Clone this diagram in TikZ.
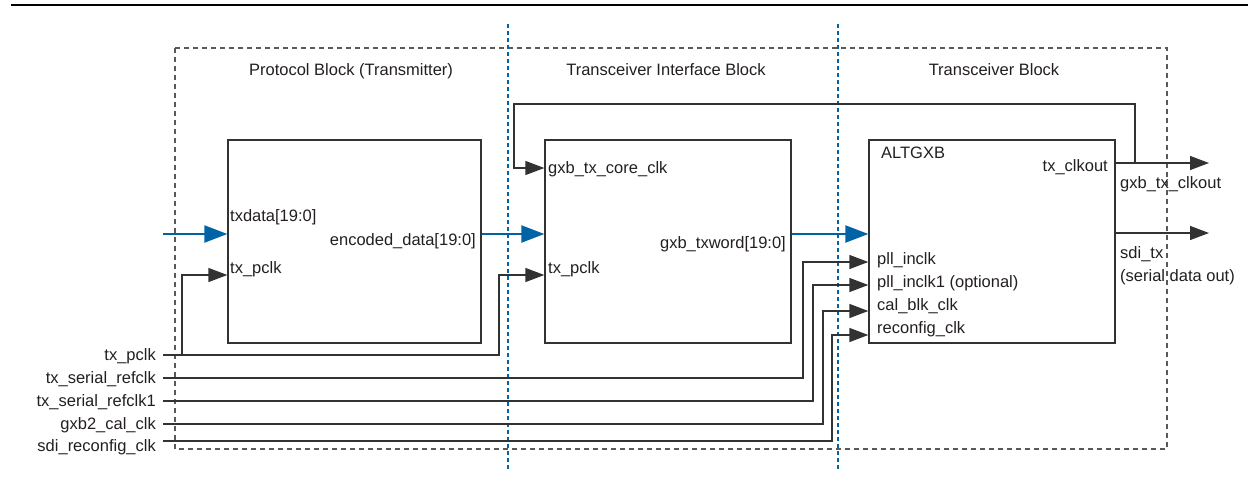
\documentclass[tikz,border=0pt]{standalone}
\usepackage{fontspec}
\setmainfont{Liberation Sans}
\usetikzlibrary{arrows.meta}
\definecolor{altblue}{RGB}{0,99,166}
\definecolor{wirecol}{RGB}{50,50,50}
\definecolor{inkcol}{RGB}{35,31,32}

\begin{document}
\begin{tikzpicture}[x=1pt,y=-1pt,line join=miter,>={Triangle[length=19pt,width=14pt]}]
\tikzset{
    wire/.style=  {draw=wirecol, line width=1.3pt},
    clk/.style=   {wire, ->},
    bus/.style=   {draw=altblue, line width=2.2pt, -{Triangle[length=23pt,width=17pt]}},
    block/.style= {draw=wirecol, line width=1.3pt, minimum width=#1, minimum height=203pt, inner sep=0pt},
    pin/.style=   {text=inkcol, font=\fontsize{16.5}{18}\selectfont, text height=11.8pt, text depth=0pt, inner sep=0pt},
    src/.style=   {pin, anchor=east, inner xsep=7pt},
    zone/.style=  {draw=black!65, line width=1.2pt, dash pattern=on 5pt off 4pt},
    cut/.style=   {draw=altblue, line width=2.5pt, dash pattern=on 4pt off 3pt}
}
\useasboundingbox (0,0) rectangle (1248,480);

%% Rule, zones and boundaries
\draw[line width=2.6pt, black] (11,5) -- (1248,5);
\draw[zone] (175,48) rectangle (1167,449);
\draw[cut] (508,24) -- (508,470);
\draw[cut] (838,24) -- (838,470);

\node[pin] (ttl1) at (351,70) {Protocol Block (Transmitter)};
\node[pin] (ttl2) at (666,70) {Transceiver Interface Block};
\node[pin] (ttl3) at (994,70) {Transceiver Block};

%% Blocks
\node[block=253pt] (pb)  at (354.5,241.5) {};
\node[block=246pt] (tib) at (668,241.5) {};
\node[block=246pt] (gxb) at (992,241.5) {};

%% Port names
\node[pin, anchor=west] (pbdata) at (230,216) {txdata[19:0]};
\node[pin, anchor=west] (pbclk)  at (230,268) {tx\_pclk};
\node[pin, anchor=east] (pbout)  at (476,240) {encoded\_data[19:0]};
\node[pin, anchor=west] (tibcore) at (548,168) {gxb\_tx\_core\_clk};
\node[pin, anchor=west] (tibclk)  at (548,268) {tx\_pclk};
\node[pin, anchor=east] (tibout)  at (786,243) {gxb\_txword[19:0]};
\node[pin, anchor=west] (gxbname) at (881,153) {ALTGXB};
\node[pin, anchor=east] (gxbclk)  at (1108,166) {tx\_clkout};
\node[pin, anchor=west] (gxbin0) at (877,259) {pll\_inclk};
\node[pin, anchor=west] (gxbin1) at (877,282) {pll\_inclk1 (optional)};
\node[pin, anchor=west] (gxbin2) at (877,305) {cal\_blk\_clk};
\node[pin, anchor=west] (gxbin3) at (877,328) {reconfig\_clk};
\node[pin, anchor=west] (outclk) at (1120,183) {gxb\_tx\_clkout};
\node[pin, anchor=west] (outtx)  at (1120,253) {sdi\_tx};
\node[pin, anchor=west] (outtx2) at (1120,276) {(serial data out)};

%% Clock inputs
\node[src] (in1) at (163,355) {tx\_pclk};
\node[src] (in2) at (163,378) {tx\_serial\_refclk};
\node[src] (in3) at (163,401) {tx\_serial\_refclk1};
\node[src] (in4) at (163,424) {gxb2\_cal\_clk};
\node[src] (in5) at (163,446) {sdi\_reconfig\_clk};

\coordinate (din)  at (163,234);
\coordinate (dout1) at (1209,163);
\coordinate (dout2) at (1209,233);

%% Data path
\draw[bus] (din) -- (pb.west |- din);
\draw[bus] (pb.east |- din) -- (tib.west |- din);
\draw[bus] (tib.east |- din) -- (gxb.west |- din);

%% Clocks
\draw[clk] (in1.east) -- (499,355) |- (tib.west |- 0,275);
\draw[clk] (182,355) |- (pb.west |- 0,275);
\draw[clk] (in2.east) -- (803,378) |- (gxb.west |- 0,262);
\draw[clk] (in3.east) -- (813,401) |- (gxb.west |- 0,285);
\draw[clk] (in4.east) -- (823,424) |- (gxb.west |- 0,311);
\draw[clk] ([yshift=5pt]in5.east) -- (832,441) |- (gxb.west |- 0,335);

%% Outputs and core clock feedback
\draw[clk] (gxb.east |- dout1) -- (dout1);
\draw[clk] (gxb.east |- dout2) -- (dout2);
\draw[clk] (1135,163) |- (514,104) |- (tib.west |- 0,168);

\end{tikzpicture}
\end{document}
